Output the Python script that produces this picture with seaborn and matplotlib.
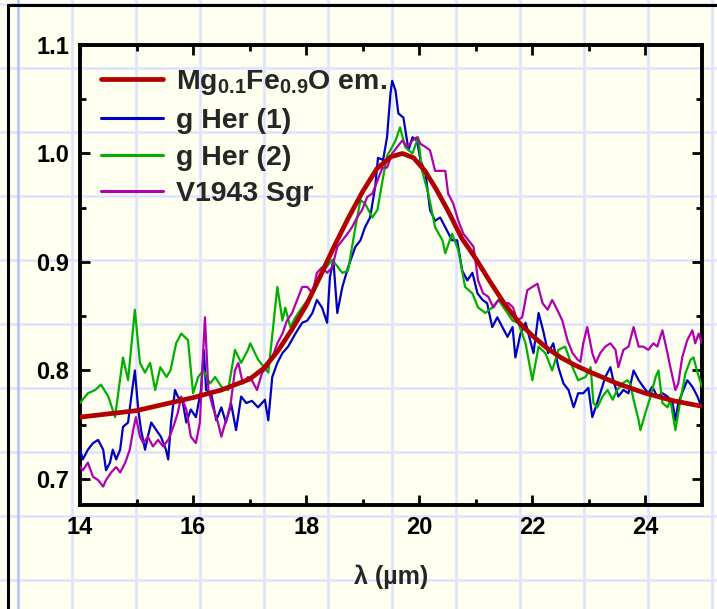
import matplotlib
matplotlib.use("Agg")
import matplotlib.pyplot as plt
from matplotlib.lines import Line2D
from matplotlib.ticker import MultipleLocator, FormatStrFormatter
import pandas as pd
import seaborn as sns

# ---------------------------------------------------------------- data
# Mg0.1Fe0.9O emissivity model (normalised)
wl_model = [14.00, 14.50, 15.00, 15.50, 16.00, 16.50, 17.00, 17.25, 17.50, 17.75,
            18.00, 18.25, 18.50, 18.75, 19.00, 19.25, 19.50, 19.70, 19.90, 20.10,
            20.30, 20.50, 20.75, 21.00, 21.25, 21.50, 21.75, 22.00, 22.25, 22.50,
            22.75, 23.00, 23.50, 24.00, 24.50, 25.00]
flux_model = [0.757, 0.760, 0.763, 0.769, 0.775, 0.782, 0.792, 0.802, 0.818, 0.838,
              0.860, 0.887, 0.915, 0.941, 0.965, 0.986, 0.997, 1.000, 0.996, 0.984,
              0.967, 0.948, 0.922, 0.903, 0.882, 0.862, 0.845, 0.832, 0.821, 0.812,
              0.805, 0.799, 0.788, 0.779, 0.772, 0.767]

# g Her, spectrum 1
wl_gher1 = [14.00, 14.05, 14.14, 14.23, 14.32, 14.41, 14.46, 14.53, 14.58, 14.64,
            14.71, 14.76, 14.85, 14.90, 14.97, 15.03, 15.08, 15.15, 15.20, 15.26,
            15.35, 15.43, 15.52, 15.56, 15.61, 15.68, 15.73, 15.82, 15.88, 15.96,
            16.05, 16.14, 16.19, 16.23, 16.32, 16.41, 16.50, 16.58, 16.67, 16.76,
            16.85, 16.94, 17.04, 17.15, 17.27, 17.33, 17.40, 17.49, 17.58, 17.68,
            17.81, 17.93, 18.02, 18.11, 18.19, 18.28, 18.37, 18.42, 18.48, 18.55,
            18.64, 18.74, 18.87, 18.96, 19.04, 19.13, 19.22, 19.27, 19.36, 19.43,
            19.49, 19.52, 19.58, 19.63, 19.72, 19.81, 19.88, 19.96, 20.02, 20.11,
            20.19, 20.28, 20.37, 20.46, 20.58, 20.67, 20.76, 20.85, 20.94, 21.03,
            21.12, 21.20, 21.29, 21.38, 21.47, 21.56, 21.65, 21.70, 21.79, 21.88,
            21.96, 22.02, 22.11, 22.19, 22.28, 22.37, 22.46, 22.55, 22.64, 22.73,
            22.81, 22.90, 22.99, 23.06, 23.12, 23.20, 23.29, 23.38, 23.43, 23.52,
            23.61, 23.70, 23.79, 23.88, 23.96, 24.05, 24.12, 24.21, 24.30, 24.39,
            24.48, 24.53, 24.58, 24.67, 24.74, 24.83, 24.92, 25.00]
flux_gher1 = [0.727, 0.718, 0.727, 0.733, 0.736, 0.727, 0.708, 0.715, 0.727, 0.718,
              0.727, 0.748, 0.752, 0.773, 0.800, 0.764, 0.745, 0.727, 0.739, 0.752,
              0.745, 0.739, 0.727, 0.718, 0.752, 0.782, 0.776, 0.770, 0.752, 0.764,
              0.757, 0.782, 0.819, 0.782, 0.779, 0.754, 0.766, 0.752, 0.770, 0.745,
              0.776, 0.770, 0.772, 0.766, 0.773, 0.754, 0.794, 0.807, 0.816, 0.822,
              0.834, 0.844, 0.846, 0.853, 0.865, 0.858, 0.844, 0.886, 0.902, 0.853,
              0.877, 0.895, 0.914, 0.920, 0.932, 0.941, 0.969, 0.996, 0.994, 1.015,
              1.055, 1.067, 1.058, 1.037, 1.033, 1.003, 1.015, 1.012, 0.994, 0.982,
              0.948, 0.938, 0.941, 0.932, 0.920, 0.920, 0.892, 0.883, 0.890, 0.871,
              0.865, 0.862, 0.840, 0.849, 0.840, 0.831, 0.840, 0.812, 0.834, 0.844,
              0.828, 0.816, 0.853, 0.837, 0.816, 0.825, 0.803, 0.788, 0.782, 0.766,
              0.779, 0.779, 0.784, 0.757, 0.766, 0.779, 0.794, 0.803, 0.791, 0.776,
              0.782, 0.779, 0.800, 0.791, 0.785, 0.779, 0.785, 0.776, 0.779, 0.776,
              0.770, 0.754, 0.770, 0.782, 0.791, 0.785, 0.776, 0.765]

# g Her, spectrum 2
wl_gher2 = [14.00, 14.14, 14.27, 14.37, 14.50, 14.62, 14.76, 14.85, 14.97, 15.06,
            15.15, 15.24, 15.33, 15.42, 15.53, 15.60, 15.70, 15.79, 15.91, 16.00,
            16.09, 16.18, 16.30, 16.39, 16.50, 16.62, 16.74, 16.85, 16.97, 17.01,
            17.15, 17.33, 17.49, 17.58, 17.63, 17.72, 17.81, 17.90, 18.11, 18.28,
            18.46, 18.64, 18.74, 18.87, 18.96, 19.04, 19.17, 19.26, 19.35, 19.43,
            19.49, 19.58, 19.66, 19.75, 19.88, 19.98, 20.05, 20.16, 20.28, 20.41,
            20.46, 20.58, 20.69, 20.81, 20.94, 21.04, 21.17, 21.29, 21.40, 21.52,
            21.65, 21.75, 21.88, 22.00, 22.11, 22.23, 22.35, 22.46, 22.58, 22.71,
            22.81, 22.94, 23.03, 23.08, 23.15, 23.24, 23.33, 23.42, 23.50, 23.59,
            23.68, 23.73, 23.79, 23.88, 23.91, 24.00, 24.09, 24.18, 24.23, 24.30,
            24.39, 24.44, 24.53, 24.62, 24.71, 24.80, 24.85, 24.92, 25.00]
flux_gher2 = [0.770, 0.779, 0.782, 0.787, 0.776, 0.757, 0.812, 0.791, 0.856, 0.807,
              0.798, 0.807, 0.782, 0.803, 0.794, 0.800, 0.825, 0.834, 0.828, 0.779,
              0.794, 0.800, 0.788, 0.794, 0.785, 0.782, 0.819, 0.807, 0.819, 0.825,
              0.810, 0.798, 0.877, 0.846, 0.858, 0.840, 0.849, 0.856, 0.871, 0.890,
              0.902, 0.890, 0.892, 0.932, 0.957, 0.954, 0.941, 0.948, 0.975, 0.998,
              1.003, 1.012, 1.024, 1.006, 1.000, 1.015, 0.984, 0.963, 0.932, 0.920,
              0.908, 0.926, 0.911, 0.877, 0.871, 0.858, 0.853, 0.858, 0.865, 0.856,
              0.846, 0.844, 0.825, 0.791, 0.822, 0.816, 0.800, 0.819, 0.822, 0.803,
              0.791, 0.794, 0.803, 0.770, 0.766, 0.776, 0.782, 0.773, 0.782, 0.788,
              0.791, 0.788, 0.773, 0.754, 0.745, 0.761, 0.776, 0.794, 0.800, 0.770,
              0.766, 0.773, 0.745, 0.773, 0.798, 0.810, 0.812, 0.798, 0.785]

# V1943 Sgr
wl_v1943 = [14.00, 14.05, 14.14, 14.23, 14.32, 14.41, 14.46, 14.55, 14.64, 14.71,
            14.80, 14.88, 14.94, 14.99, 15.06, 15.12, 15.20, 15.29, 15.38, 15.47,
            15.56, 15.65, 15.73, 15.79, 15.88, 15.96, 16.05, 16.12, 16.18, 16.21,
            16.27, 16.35, 16.44, 16.50, 16.57, 16.65, 16.74, 16.80, 16.88, 16.97,
            17.04, 17.13, 17.22, 17.31, 17.40, 17.49, 17.58, 17.66, 17.75, 17.84,
            17.93, 18.02, 18.11, 18.19, 18.28, 18.37, 18.46, 18.55, 18.64, 18.73,
            18.81, 18.90, 18.99, 19.08, 19.17, 19.26, 19.35, 19.43, 19.52, 19.61,
            19.70, 19.79, 19.88, 19.96, 20.02, 20.11, 20.19, 20.28, 20.37, 20.46,
            20.51, 20.60, 20.69, 20.78, 20.87, 20.96, 21.04, 21.13, 21.22, 21.31,
            21.40, 21.49, 21.58, 21.66, 21.73, 21.82, 21.91, 22.00, 22.09, 22.18,
            22.27, 22.35, 22.44, 22.53, 22.62, 22.71, 22.80, 22.85, 22.90, 22.97,
            23.06, 23.12, 23.20, 23.29, 23.38, 23.47, 23.52, 23.61, 23.70, 23.79,
            23.88, 23.96, 24.05, 24.14, 24.21, 24.30, 24.39, 24.44, 24.53, 24.58,
            24.65, 24.74, 24.83, 24.88, 24.94, 25.00]
flux_v1943 = [0.711, 0.708, 0.715, 0.702, 0.699, 0.693, 0.699, 0.706, 0.711, 0.706,
              0.715, 0.727, 0.745, 0.757, 0.739, 0.733, 0.739, 0.730, 0.736, 0.730,
              0.736, 0.748, 0.761, 0.776, 0.764, 0.739, 0.733, 0.752, 0.819, 0.849,
              0.782, 0.766, 0.752, 0.739, 0.752, 0.764, 0.800, 0.807, 0.788, 0.794,
              0.791, 0.782, 0.798, 0.803, 0.812, 0.825, 0.834, 0.846, 0.853, 0.865,
              0.877, 0.877, 0.871, 0.890, 0.895, 0.890, 0.895, 0.914, 0.920, 0.926,
              0.932, 0.941, 0.948, 0.960, 0.963, 0.975, 0.987, 0.987, 1.000, 1.006,
              1.012, 1.006, 1.012, 1.015, 1.009, 1.006, 1.003, 0.984, 0.984, 0.984,
              0.963, 0.954, 0.938, 0.926, 0.920, 0.914, 0.883, 0.871, 0.868, 0.858,
              0.865, 0.862, 0.862, 0.858, 0.846, 0.849, 0.874, 0.877, 0.880, 0.862,
              0.856, 0.865, 0.856, 0.846, 0.828, 0.816, 0.810, 0.808, 0.825, 0.840,
              0.816, 0.807, 0.816, 0.822, 0.825, 0.819, 0.803, 0.819, 0.822, 0.840,
              0.822, 0.822, 0.819, 0.825, 0.822, 0.837, 0.816, 0.803, 0.782, 0.788,
              0.812, 0.828, 0.837, 0.825, 0.834, 0.825]

labels = [r"Mg$_{0.1}$Fe$_{0.9}$O em.", "g Her (1)", "g Her (2)", "V1943 Sgr"]
colors = ["#B00000", "#0000C0", "#00B000", "#B000B0"]

x_ticks = [14, 16, 18, 20, 22, 24]
y_ticks = [0.7, 0.8, 0.9, 1.0, 1.1]

# ---------------------------------------------------------------- style
sns.set_theme(style="ticks")
plt.rcParams["font.family"] = ["Liberation Sans", "DejaVu Sans"]
plt.rcParams["font.weight"] = "bold"
plt.rcParams["mathtext.fontset"] = "custom"
plt.rcParams["mathtext.rm"] = "Liberation Sans:bold"
plt.rcParams["mathtext.it"] = "Liberation Sans:bold"
plt.rcParams["mathtext.bf"] = "Liberation Sans:bold"

W, H = 717, 609
paper = "#FFFFF0"
fig = plt.figure(figsize=(W / 100, H / 100), dpi=100, facecolor=paper)


def fx(p):
    return p / W


def fy(p):
    return 1 - p / H


# graph-paper background
for gx in range(72, W, 64):
    fig.add_artist(Line2D([fx(gx), fx(gx)], [0, 1], color="#DCE2FF",
                          lw=1.8, zorder=-2))
for gy in range(4, H, 64):
    fig.add_artist(Line2D([0, 1], [fy(gy), fy(gy)], color="#DCE2FF",
                          lw=1.8, zorder=-2))
fig.add_artist(Line2D([fx(18), fx(18)], [0, 1], color="#B4BEFF", lw=1.8, zorder=-1))
fig.add_artist(Line2D([fx(8), fx(8)], [0, fy(5)], color="black", lw=2.2, zorder=-1))
fig.add_artist(Line2D([fx(8), 1], [fy(5), fy(5)], color="black", lw=2.2, zorder=-1))

ax = fig.add_axes([fx(80), fy(505), (702 - 80) / W, (505 - 45) / H])
ax.set_facecolor("none")

series = [
    (wl_gher1, flux_gher1, labels[1], colors[1], 1.6, 3),
    (wl_gher2, flux_gher2, labels[2], colors[2], 1.6, 3),
    (wl_v1943, flux_v1943, labels[3], colors[3], 1.6, 3),
    (wl_model, flux_model, labels[0], colors[0], 3.4, 4),
]
for wl, fl, lab, col, lw, z in series:
    df = pd.DataFrame({"wl": wl, "flux": fl})
    sns.lineplot(data=df, x="wl", y="flux", ax=ax, color=col, lw=lw,
                 label=lab, estimator=None, sort=False, zorder=z)

ax.set_xlim(14, 25)
ax.set_ylim(0.676, 1.1)
ax.set_xticks(x_ticks)
ax.set_yticks(y_ticks)
ax.xaxis.set_minor_locator(MultipleLocator(1))
ax.yaxis.set_minor_locator(MultipleLocator(0.05))
ax.yaxis.set_major_formatter(FormatStrFormatter("%.1f"))
ax.tick_params(which="both", direction="in", top=True, right=True,
               colors="black", labelsize=17, width=2.0, pad=8)
ax.tick_params(which="major", length=7)
ax.tick_params(which="minor", length=4)
for s in ax.spines.values():
    s.set_linewidth(2.8)
    s.set_color("black")

ax.set_xlabel("λ (µm)", fontsize=18, fontweight="bold", labelpad=18)
ax.set_ylabel("")

handles, labs = ax.get_legend_handles_labels()
order = [labs.index(l) for l in labels]
leg = ax.legend([handles[i] for i in order], [labs[i] for i in order],
                loc="upper left", bbox_to_anchor=(0.033, 0.95), frameon=False,
                fontsize=20.5, handlelength=2.2, handletextpad=0.45,
                labelspacing=0.38, borderpad=0, borderaxespad=0)
for t in leg.get_texts():
    t.set_fontweight("bold")
for h in leg.legend_handles[1:]:
    h.set_linewidth(2.2)

fig.savefig("out.png", dpi=100, facecolor=paper)
